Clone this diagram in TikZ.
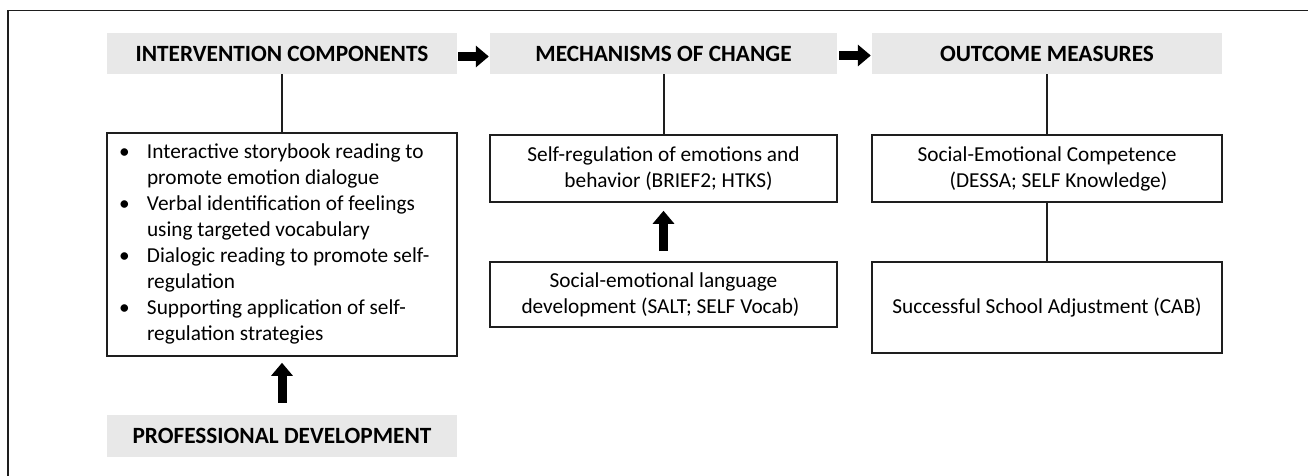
\documentclass[tikz,border=0pt]{standalone}
\usepackage{fontspec}
\setmainfont{Carlito}
\usetikzlibrary{arrows.meta}
\definecolor{hdr}{HTML}{E8E8E8}
\definecolor{ln}{HTML}{1E1E1E}
\begin{document}
\begin{tikzpicture}[x=1pt,y=-1pt,
  hdrbox/.style={fill=hdr, minimum width=350pt, minimum height=41pt, inner sep=0pt,
    font=\fontsize{23.3}{28}\selectfont\bfseries, text=black},
  mbox/.style={draw=ln, line width=1.6pt, minimum width=350pt, inner sep=0pt,
    font=\fontsize{21.3}{26}\selectfont, align=center, text=black},
  conn/.style={draw=ln, line width=2pt},
  blockarrow/.style={draw=black, line width=9pt, -{Triangle[length=13pt,width=21pt]}}
]
\useasboundingbox (0,0) rectangle (1308,476);
\fill[white] (0,0) rectangle (1308,476);
% frame (only top and left edges are in view)
\draw[ln, line width=1.5pt] (8,476) -- (8,10.5) -- (1308,10.5);

% headers
\node[hdrbox] (h1) at (282,53.5) {INTERVENTION COMPONENTS};
\node[hdrbox, minimum width=347pt] (h2) at (663.5,53.5) {MECHANISMS OF CHANGE};
\node[hdrbox] (h3) at (1047,53.5) {OUTCOME MEASURES};
\node[hdrbox, minimum height=42pt] (pd) at (282,436) {PROFESSIONAL DEVELOPMENT};

% boxes
\node[mbox, minimum height=223pt] (b1) at (282,244.5) {\makebox[326pt][l]{\begin{tabular}{@{}p{28pt}@{}l@{}}
\textbullet & Interactive storybook reading to\\
 & promote emotion dialogue\\
\textbullet & Verbal identification of feelings\\
 & using targeted vocabulary\\
\textbullet & Dialogic reading to promote self-\\
 & regulation\\
\textbullet & Supporting application of self-\\
 & regulation strategies
\end{tabular}}};
\node[mbox, minimum width=347pt, minimum height=67pt] (m1) at (663.5,168.5)
  {Self-regulation of emotions and\\\hspace*{10pt}behavior (BRIEF2; HTKS)};
\node[mbox, minimum width=347pt, minimum height=65pt] (m2) at (663.5,294.5)
  {Social-emotional language\\development (SALT; SELF Vocab)\hspace*{6pt}};
\node[mbox, minimum height=67pt] (o1) at (1047,168.5)
  {Social-Emotional Competence\\\hspace*{23pt}(DESSA; SELF Knowledge)};
\node[mbox, minimum height=91pt] (o2) at (1047,307.5)
  {Successful School Adjustment (CAB)};

% connectors
\draw[conn] (h1.south) -- (b1.north);
\draw[conn] (h2.south) -- (m1.north);
\draw[conn] (h3.south) -- (o1.north);
\draw[conn] (o1.south) -- (o2.north);

% block arrows
\draw[blockarrow, shorten <=1pt, shorten >=1pt] ([yshift=-3pt]h1.east) -- ([yshift=-3pt]h2.west);
\draw[blockarrow, shorten <=2pt, shorten >=1pt] ([yshift=-2pt]h2.east) -- ([yshift=-2pt]h3.west);
\draw[blockarrow, shorten <=12pt, shorten >=6pt] (pd.north) -- (b1.south);
\draw[blockarrow, shorten <=10pt, shorten >=8pt] (m2.north) -- (m1.south);
\end{tikzpicture}
\end{document}
